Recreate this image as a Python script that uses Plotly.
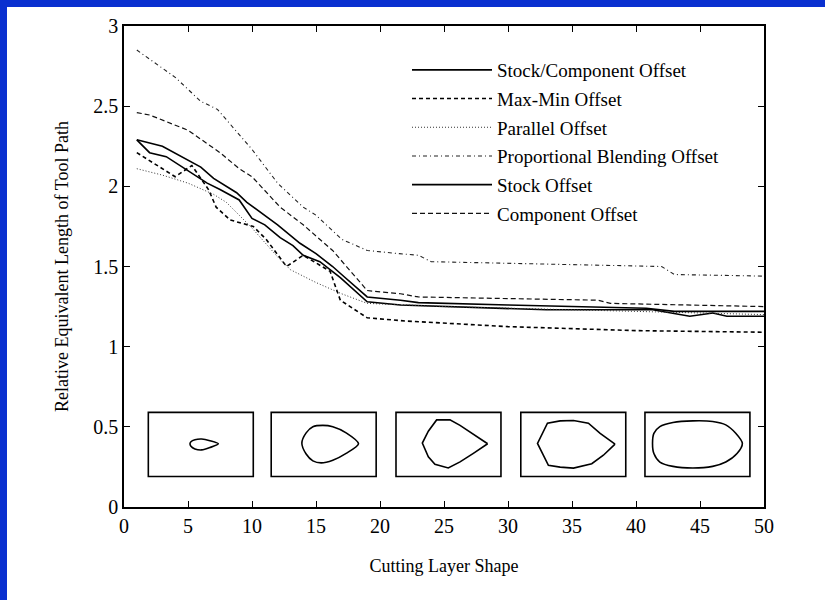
import plotly.graph_objects as go

# ---------------- data ----------------
series_names = [
    "Stock/Component Offset",
    "Max-Min Offset",
    "Parallel Offset",
    "Proportional Blending Offset",
    "Stock Offset",
    "Component Offset",
]

stock_component_x = [1, 2, 3.3, 6.5, 7.5, 9, 10, 11, 12.2, 13.2, 14, 15.3, 16.9, 19, 21.6, 33, 41.3, 44.2, 46, 47.1, 50]
stock_component_y = [2.29, 2.21, 2.185, 2.02, 1.98, 1.915, 1.80, 1.76, 1.68, 1.63, 1.57, 1.53, 1.43, 1.28, 1.26, 1.23, 1.23, 1.19, 1.21, 1.19, 1.19]

maxmin_x = [1, 4, 5.3, 6.6, 7.2, 8.3, 10.1, 11.1, 12.7, 14, 16.1, 16.9, 19, 22, 30, 40, 50]
maxmin_y = [2.21, 2.06, 2.13, 1.98, 1.87, 1.79, 1.75, 1.67, 1.50, 1.57, 1.47, 1.29, 1.18, 1.16, 1.125, 1.10, 1.09]

parallel_x = [1, 3, 5, 7, 8, 10, 12, 13, 15, 17, 19, 25, 30, 40, 50]
parallel_y = [2.11, 2.07, 2.02, 1.95, 1.90, 1.74, 1.56, 1.48, 1.40, 1.33, 1.27, 1.25, 1.24, 1.22, 1.20]

blending_x = [1, 4, 6, 7.3, 10, 12, 14, 15, 17, 19, 21.5, 23, 24, 30, 36, 42, 43, 50]
blending_y = [2.85, 2.68, 2.53, 2.48, 2.23, 2.02, 1.87, 1.82, 1.67, 1.60, 1.58, 1.57, 1.53, 1.52, 1.51, 1.50, 1.45, 1.44]

stock_x = [1, 3, 6, 7, 8.8, 9.6, 12, 13.75, 15, 16.3, 17, 19, 21.6, 23, 30, 40.8, 43, 50]
stock_y = [2.29, 2.25, 2.12, 2.05, 1.96, 1.90, 1.76, 1.645, 1.58, 1.50, 1.45, 1.31, 1.29, 1.275, 1.26, 1.24, 1.22, 1.22]

component_x = [1, 2, 5, 7.5, 9, 10, 12.2, 14, 16.3, 19, 21.6, 23, 30, 37, 38, 44, 50]
component_y = [2.46, 2.445, 2.35, 2.21, 2.11, 2.06, 1.87, 1.76, 1.60, 1.35, 1.33, 1.31, 1.30, 1.29, 1.27, 1.26, 1.25]

x_ticks = [0, 5, 10, 15, 20, 25, 30, 35, 40, 45, 50]
y_ticks = [0, 0.5, 1, 1.5, 2, 2.5, 3]
y_tick_labels = ["0", "0.5", "1", "1.5", "2", "2.5", "3"]

# cutting-layer outlines, normalised to their inset box (u: left->right, v: bottom->top)
shape1_u = [0.667, 0.587, 0.508, 0.444, 0.406, 0.397, 0.406, 0.444, 0.508, 0.587, 0.667]
shape1_v = [0.511, 0.559, 0.585, 0.574, 0.543, 0.511, 0.473, 0.431, 0.415, 0.452, 0.511]
shape2_u = [0.832, 0.714, 0.587, 0.492, 0.397, 0.333, 0.292, 0.333, 0.397, 0.476, 0.587, 0.714, 0.832]
shape2_v = [0.511, 0.681, 0.777, 0.798, 0.777, 0.681, 0.521, 0.351, 0.245, 0.213, 0.255, 0.362, 0.511]
shape3_u = [0.873, 0.737, 0.610, 0.514, 0.387, 0.308, 0.251, 0.308, 0.371, 0.498, 0.610, 0.737, 0.873]
shape3_v = [0.511, 0.654, 0.798, 0.883, 0.883, 0.707, 0.521, 0.309, 0.191, 0.133, 0.229, 0.362, 0.511]
shape4_u = [0.898, 0.756, 0.644, 0.502, 0.375, 0.254, 0.159, 0.263, 0.375, 0.502, 0.676, 0.787, 0.898]
shape4_v = [0.505, 0.674, 0.832, 0.874, 0.868, 0.832, 0.516, 0.174, 0.147, 0.132, 0.200, 0.332, 0.505]
shape5_u = [0.928, 0.865, 0.770, 0.645, 0.456, 0.267, 0.142, 0.085, 0.072, 0.085, 0.142, 0.267, 0.456, 0.645, 0.770, 0.877, 0.928]
shape5_v = [0.516, 0.674, 0.805, 0.858, 0.868, 0.842, 0.779, 0.674, 0.516, 0.358, 0.226, 0.158, 0.132, 0.158, 0.226, 0.358, 0.516]

# ---------------- layout / style constants ----------------
FONT = "Liberation Serif, Times New Roman, serif"
BLUE = "#0a30d0"
inset_left = [1.9, 11.5, 21.25, 31.0, 40.7]
inset_width = 8.2
inset_bottom = 0.19
inset_top = 0.59

series = [
    (stock_component_x, stock_component_y, dict(color="black", width=1.6, dash="solid")),
    (maxmin_x, maxmin_y, dict(color="black", width=1.6, dash="4px,3px")),
    (parallel_x, parallel_y, dict(color="#333333", width=1.0, dash="1px,2px")),
    (blending_x, blending_y, dict(color="#222222", width=1.1, dash="4px,3px,1px,3px")),
    (stock_x, stock_y, dict(color="black", width=1.6, dash="solid")),
    (component_x, component_y, dict(color="#111111", width=1.2, dash="5px,3px")),
]

fig = go.Figure()
for i, (name, (xs, ys, ln)) in enumerate(zip(series_names, series)):
    fig.add_trace(go.Scatter(x=xs, y=ys, mode="lines", name=name, line=ln,
                             legendgroup=f"g{i}"))

shapes_u = [shape1_u, shape2_u, shape3_u, shape4_u, shape5_u]
shapes_v = [shape1_v, shape2_v, shape3_v, shape4_v, shape5_v]
smooth = [True, True, False, False, True]
h = inset_top - inset_bottom
for k in range(5):
    x0 = inset_left[k]
    xs = [x0 + u * inset_width for u in shapes_u[k]]
    ys = [inset_bottom + v * h for v in shapes_v[k]]
    fig.add_trace(go.Scatter(
        x=xs, y=ys, mode="lines", showlegend=False, hoverinfo="skip",
        line=dict(color="black", width=1.6,
                  shape="spline" if smooth[k] else "linear", smoothing=0.8)))

# blue slide border strips (top and left), page itself is white
px_x = lambda p: (p - 124) / 640
px_y = lambda p: (507 - p) / 481
shapes = [
    dict(type="rect", xref="paper", yref="paper",
         x0=px_x(-5), x1=px_x(830), y0=px_y(7), y1=px_y(-5),
         fillcolor=BLUE, line=dict(width=0), layer="below"),
    dict(type="rect", xref="paper", yref="paper",
         x0=px_x(-5), x1=px_x(7), y0=px_y(605), y1=px_y(-5),
         fillcolor=BLUE, line=dict(width=0), layer="below"),
]
for k in range(5):
    shapes.append(dict(type="rect", xref="x", yref="y",
                       x0=inset_left[k], x1=inset_left[k] + inset_width,
                       y0=inset_bottom, y1=inset_top,
                       line=dict(color="black", width=1.6)))

fig.update_layout(
    width=825, height=600,
    margin=dict(l=124, r=61, t=26, b=93),
    paper_bgcolor="white",
    plot_bgcolor="white",
    font=dict(family=FONT, color="black"),
    shapes=shapes,
    showlegend=True,
    legend=dict(
        x=px_x(407), y=px_y(51), xanchor="left", yanchor="top",
        bgcolor="rgba(0,0,0,0)", borderwidth=0,
        font=dict(family=FONT, size=19, color="black"),
        traceorder="grouped", tracegroupgap=1, itemwidth=80,
    ),
    xaxis=dict(
        range=[0, 50], tickmode="array", tickvals=x_ticks,
        ticks="inside", ticklen=6, tickwidth=1.2, tickcolor="black",
        showline=True, linecolor="black", linewidth=1.6, mirror="ticks",
        showgrid=False, zeroline=False,
        tickfont=dict(family=FONT, size=20, color="black"),
        title=dict(text="Cutting Layer Shape", font=dict(family=FONT, size=18, color="black"), standoff=24),
    ),
    yaxis=dict(
        range=[0, 3], tickmode="array", tickvals=y_ticks, ticktext=y_tick_labels,
        ticks="inside", ticklen=6, tickwidth=1.2, tickcolor="black",
        showline=True, linecolor="black", linewidth=1.6, mirror="ticks",
        showgrid=False, zeroline=False,
        tickfont=dict(family=FONT, size=20, color="black"),
        title=dict(text="Relative Equivalent Length of Tool Path", font=dict(family=FONT, size=18, color="black"), standoff=20),
    ),
)

fig.write_html(
    "out.html",
    config={"displayModeBar": False},
    post_script="document.body.style.margin='0px';document.body.style.overflow='hidden';",
)
